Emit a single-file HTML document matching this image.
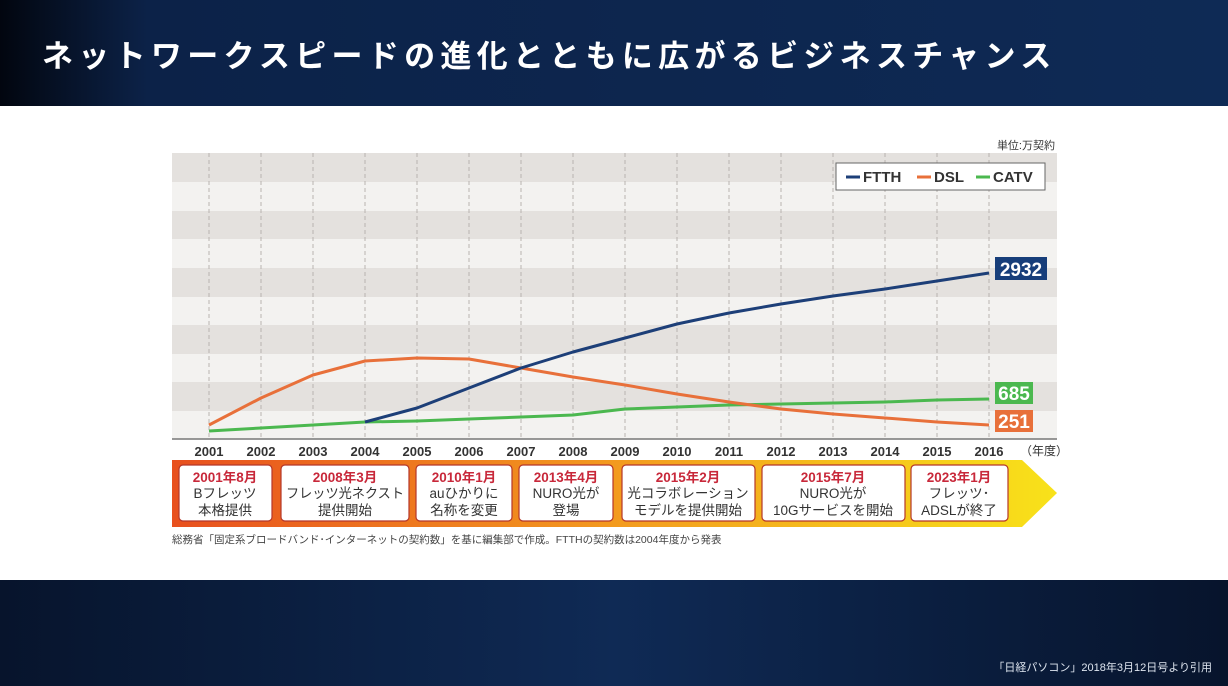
<!DOCTYPE html><html><head><meta charset="utf-8"><style>
body{margin:0;width:1228px;height:686px;overflow:hidden;background:#0a1a38;font-family:"Liberation Sans","Noto Sans CJK JP",sans-serif}
svg{display:block}
</style></head><body>
<svg width="1228" height="686" xmlns="http://www.w3.org/2000/svg" font-family="Liberation Sans, Noto Sans CJK JP, sans-serif">
<defs>
<linearGradient id="top" x1="0" x2="1"><stop offset="0" stop-color="#02060f"/><stop offset="0.12" stop-color="#0c2248"/><stop offset="1" stop-color="#0e2a55"/></linearGradient>
<linearGradient id="bot" x1="0" x2="1"><stop offset="0" stop-color="#07142c"/><stop offset="0.5" stop-color="#0f2a55"/><stop offset="1" stop-color="#07142c"/></linearGradient>
<linearGradient id="bar" x1="0" x2="1"><stop offset="0" stop-color="#e8501e"/><stop offset="0.5" stop-color="#f39a1e"/><stop offset="1" stop-color="#f8e21a"/></linearGradient>
</defs>
<rect width="1228" height="106" fill="url(#top)"/>
<rect y="580" width="1228" height="106" fill="url(#bot)"/>
<rect y="106" width="1228" height="474" fill="#fff"/>
<text x="42" y="67" font-size="31" font-weight="bold" fill="#fff" letter-spacing="5.3">ネットワークスピードの進化とともに広がるビジネスチャンス</text>
<text x="1212" y="671" font-size="11" fill="#dfe6f0" text-anchor="end">「日経パソコン」2018年3月12日号より引用</text>
<text x="1055" y="149" font-size="11" fill="#333" text-anchor="end">単位:万契約</text>
<g>
<rect x="172" y="153" width="885" height="286" fill="#f3f2f0"/>
<rect x="172" y="153" width="885" height="29" fill="#e4e1de"/>
<rect x="172" y="211" width="885" height="28" fill="#e4e1de"/>
<rect x="172" y="268" width="885" height="29" fill="#e4e1de"/>
<rect x="172" y="325" width="885" height="29" fill="#e4e1de"/>
<rect x="172" y="382" width="885" height="29" fill="#e4e1de"/>
</g>
<g stroke="#b8b4b0" stroke-width="1" stroke-dasharray="4,3">
<line x1="209" y1="153" x2="209" y2="439"/><line x1="261" y1="153" x2="261" y2="439"/><line x1="313" y1="153" x2="313" y2="439"/><line x1="365" y1="153" x2="365" y2="439"/><line x1="417" y1="153" x2="417" y2="439"/><line x1="469" y1="153" x2="469" y2="439"/><line x1="521" y1="153" x2="521" y2="439"/><line x1="573" y1="153" x2="573" y2="439"/><line x1="625" y1="153" x2="625" y2="439"/><line x1="677" y1="153" x2="677" y2="439"/><line x1="729" y1="153" x2="729" y2="439"/><line x1="781" y1="153" x2="781" y2="439"/><line x1="833" y1="153" x2="833" y2="439"/><line x1="885" y1="153" x2="885" y2="439"/><line x1="937" y1="153" x2="937" y2="439"/><line x1="989" y1="153" x2="989" y2="439"/>
</g>
<line x1="172" y1="439" x2="1057" y2="439" stroke="#777" stroke-width="1.5"/>
<g fill="none" stroke-width="3" stroke-linejoin="round">
<polyline stroke="#4bb84f" points="209,431 261,428 313,425 365,422 417,421 469,419 521,417 573,415 625,409 677,407 729,405 781,404 833,403 885,402 937,400 989,399"/>
<polyline stroke="#e8703a" points="209,425 261,398 313,375 365,361 417,358 469,359 521,368 573,377 625,385 677,394 729,402 781,409 833,414 885,418 937,422 989,425"/>
<polyline stroke="#1d3f78" points="365,422 417,408 469,388 521,368 573,352 625,338 677,324 729,313 781,304 833,296 885,289 937,281 989,273"/>
</g>
<rect x="995" y="257" width="52" height="23" fill="#173e7a"/><text x="1021" y="276" font-size="19" font-weight="bold" fill="#fff" text-anchor="middle">2932</text>
<rect x="995" y="382" width="38" height="22" fill="#4bb84f"/><text x="1014" y="400" font-size="19" font-weight="bold" fill="#fff" text-anchor="middle">685</text>
<rect x="995" y="410" width="38" height="22" fill="#e8703a"/><text x="1014" y="428" font-size="19" font-weight="bold" fill="#fff" text-anchor="middle">251</text>
<rect x="836" y="163" width="209" height="27" fill="#fff" stroke="#666"/>
<g font-size="15" font-weight="bold" fill="#333">
<line x1="846" y1="177" x2="860" y2="177" stroke="#1d3f78" stroke-width="3"/><text x="863" y="182">FTTH</text>
<line x1="917" y1="177" x2="931" y2="177" stroke="#e8703a" stroke-width="3"/><text x="934" y="182">DSL</text>
<line x1="976" y1="177" x2="990" y2="177" stroke="#4bb84f" stroke-width="3"/><text x="993" y="182">CATV</text>
</g>
<g font-size="13" font-weight="bold" fill="#333" text-anchor="middle">
<text x="209" y="456">2001</text><text x="261" y="456">2002</text><text x="313" y="456">2003</text><text x="365" y="456">2004</text><text x="417" y="456">2005</text><text x="469" y="456">2006</text><text x="521" y="456">2007</text><text x="573" y="456">2008</text><text x="625" y="456">2009</text><text x="677" y="456">2010</text><text x="729" y="456">2011</text><text x="781" y="456">2012</text><text x="833" y="456">2013</text><text x="885" y="456">2014</text><text x="937" y="456">2015</text><text x="989" y="456">2016</text>
</g>
<text x="1020" y="455" font-size="12" fill="#333">（年度）</text>
<polygon points="172,460 1022,460 1057,493 1022,527 172,527" fill="url(#bar)"/>
<g fill="#fff" stroke="#b5372a" stroke-width="1.2">
<rect x="179" y="465" width="93" height="56" rx="4"/><rect x="281" y="465" width="128" height="56" rx="4"/><rect x="416" y="465" width="96" height="56" rx="4"/><rect x="519" y="465" width="94" height="56" rx="4"/><rect x="622" y="465" width="133" height="56" rx="4"/><rect x="762" y="465" width="143" height="56" rx="4"/><rect x="911" y="465" width="97" height="56" rx="4"/>
</g>
<g font-size="13.5" text-anchor="middle" fill="#333">
<g fill="#c8283a" font-weight="bold"><text x="225" y="482">2001年8月</text><text x="345" y="482">2008年3月</text><text x="464" y="482">2010年1月</text><text x="566" y="482">2013年4月</text><text x="688" y="482">2015年2月</text><text x="833" y="482">2015年7月</text><text x="959" y="482">2023年1月</text></g>
<text x="225" y="498">Bフレッツ</text><text x="225" y="515">本格提供</text>
<text x="345" y="498" textLength="118" lengthAdjust="spacingAndGlyphs">フレッツ光ネクスト</text><text x="345" y="515">提供開始</text>
<text x="464" y="498">auひかりに</text><text x="464" y="515">名称を変更</text>
<text x="566" y="498">NURO光が</text><text x="566" y="515">登場</text>
<text x="688" y="498">光コラボレーション</text><text x="688" y="515">モデルを提供開始</text>
<text x="833" y="498">NURO光が</text><text x="833" y="515">10Gサービスを開始</text>
<text x="959" y="498">フレッツ･</text><text x="959" y="515">ADSLが終了</text>
</g>
<text x="172" y="543" font-size="10.5" fill="#444">総務省「固定系ブロードバンド･インターネットの契約数」を基に編集部で作成。FTTHの契約数は2004年度から発表</text>
</svg>
</body></html>
